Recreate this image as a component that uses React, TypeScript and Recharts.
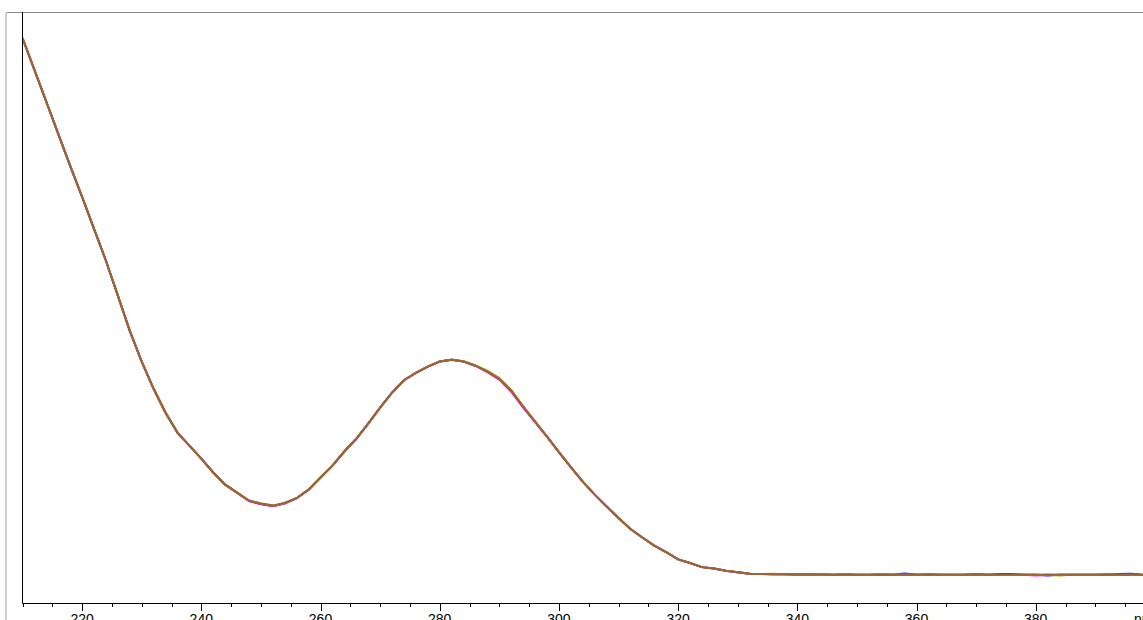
import React from "react";
import { LineChart, Line, XAxis, YAxis } from "recharts";

const wavelengths = [
  210, 212, 214, 216, 218, 220, 222, 224, 226, 228, 230, 232, 234, 236, 238, 240,
  242, 244, 246, 248, 250, 252, 254, 256, 258, 260, 262, 264, 266, 268, 270, 272,
  274, 276, 278, 280, 282, 284, 286, 288, 290, 292, 294, 296, 298, 300, 302, 304,
  306, 308, 310, 312, 314, 316, 318, 320, 322, 324, 326, 328, 330, 332, 334, 336,
  338, 340, 342, 344, 346, 348, 350, 352, 354, 356, 358, 360, 362, 364, 366, 368,
  370, 372, 374, 376, 378, 380, 382, 384, 386, 388, 390, 392, 394, 396, 398,
];

const absBrown = [
  1.912, 1.804, 1.696, 1.588, 1.48, 1.375, 1.267, 1.159, 1.041, 0.922, 0.818, 0.726, 0.645, 0.578, 0.534, 0.49,
  0.443, 0.402, 0.375, 0.348, 0.338, 0.331, 0.34, 0.356, 0.385, 0.426, 0.466, 0.514, 0.557, 0.608, 0.662, 0.713,
  0.755, 0.78, 0.801, 0.818, 0.824, 0.818, 0.804, 0.784, 0.76, 0.72, 0.666, 0.615, 0.564, 0.512, 0.461, 0.412,
  0.368, 0.328, 0.289, 0.252, 0.223, 0.196, 0.174, 0.149, 0.137, 0.123, 0.118, 0.111, 0.106, 0.101, 0.1, 0.099,
  0.099, 0.098, 0.098, 0.098, 0.097, 0.098, 0.097, 0.097, 0.098, 0.097, 0.098, 0.097, 0.098, 0.097, 0.097, 0.097,
  0.098, 0.097, 0.097, 0.097, 0.097, 0.097, 0.097, 0.097, 0.097, 0.097, 0.097, 0.098, 0.097, 0.098, 0.096,
];

const absBlue = [
  1.912, 1.804, 1.696, 1.588, 1.48, 1.375, 1.267, 1.159, 1.041, 0.922, 0.818, 0.726, 0.645, 0.578, 0.534, 0.49,
  0.443, 0.402, 0.375, 0.347, 0.336, 0.33, 0.339, 0.356, 0.385, 0.426, 0.466, 0.514, 0.557, 0.608, 0.662, 0.713,
  0.755, 0.78, 0.801, 0.818, 0.824, 0.818, 0.804, 0.784, 0.76, 0.72, 0.666, 0.615, 0.564, 0.512, 0.461, 0.412,
  0.368, 0.328, 0.289, 0.252, 0.223, 0.196, 0.174, 0.149, 0.137, 0.123, 0.118, 0.111, 0.106, 0.101, 0.1, 0.099,
  0.099, 0.098, 0.099, 0.098, 0.097, 0.098, 0.097, 0.097, 0.098, 0.097, 0.101, 0.097, 0.098, 0.097, 0.097, 0.097,
  0.1, 0.097, 0.1, 0.1, 0.097, 0.097, 0.095, 0.097, 0.097, 0.097, 0.097, 0.098, 0.1, 0.101, 0.097,
];

const absMagenta = [
  1.912, 1.804, 1.696, 1.588, 1.48, 1.375, 1.267, 1.159, 1.041, 0.922, 0.818, 0.726, 0.645, 0.578, 0.534, 0.49,
  0.443, 0.402, 0.375, 0.346, 0.336, 0.329, 0.338, 0.356, 0.385, 0.426, 0.466, 0.514, 0.557, 0.608, 0.662, 0.713,
  0.755, 0.78, 0.801, 0.818, 0.824, 0.818, 0.804, 0.782, 0.757, 0.716, 0.662, 0.613, 0.564, 0.512, 0.461, 0.412,
  0.368, 0.328, 0.289, 0.252, 0.223, 0.196, 0.174, 0.149, 0.137, 0.123, 0.118, 0.111, 0.106, 0.101, 0.1, 0.099,
  0.099, 0.098, 0.098, 0.098, 0.097, 0.098, 0.097, 0.096, 0.098, 0.097, 0.098, 0.097, 0.098, 0.097, 0.097, 0.097,
  0.098, 0.097, 0.097, 0.097, 0.097, 0.095, 0.097, 0.097, 0.097, 0.097, 0.097, 0.098, 0.097, 0.097, 0.096,
];

const absOlive = [
  1.912, 1.804, 1.696, 1.588, 1.48, 1.375, 1.267, 1.159, 1.041, 0.922, 0.818, 0.726, 0.645, 0.578, 0.534, 0.49,
  0.443, 0.402, 0.375, 0.348, 0.338, 0.331, 0.34, 0.356, 0.385, 0.426, 0.466, 0.514, 0.557, 0.608, 0.662, 0.713,
  0.755, 0.78, 0.801, 0.818, 0.825, 0.819, 0.805, 0.787, 0.762, 0.722, 0.667, 0.615, 0.564, 0.512, 0.461, 0.412,
  0.368, 0.328, 0.289, 0.252, 0.223, 0.196, 0.174, 0.149, 0.137, 0.123, 0.118, 0.111, 0.106, 0.101, 0.1, 0.101,
  0.099, 0.098, 0.098, 0.098, 0.097, 0.098, 0.097, 0.097, 0.099, 0.097, 0.098, 0.097, 0.098, 0.097, 0.096, 0.097,
  0.098, 0.097, 0.097, 0.097, 0.097, 0.097, 0.097, 0.095, 0.097, 0.097, 0.097, 0.099, 0.097, 0.098, 0.097,
];

const xTicks = [
  210, 215, 220, 225, 230, 235, 240, 245, 250, 255, 260, 265, 270, 275, 280, 285,
  290, 295, 300, 305, 310, 315, 320, 325, 330, 335, 340, 345, 350, 355, 360, 365,
  370, 375, 380, 385, 390, 395,
];
const labelledTicks = [220, 240, 260, 280, 300, 320, 340, 360, 380];

const data = wavelengths.map((w, i) => ({
  nm: w,
  blue: absBlue[i],
  magenta: absMagenta[i],
  olive: absOlive[i],
  brown: absBrown[i],
}));

const FONT = "'Liberation Sans', Arial, sans-serif";

const renderTick = (props: any) => {
  const { x, y, payload } = props;
  const v = payload.value;
  const major = labelledTicks.indexOf(v) >= 0;
  const cx = Math.round(x) + 0.5;
  return (
    <g>
      <line x1={cx} y1={y} x2={cx} y2={y + (major ? 7.5 : 3.5)} stroke="#000" strokeWidth={1} />
      {major && (
        <text x={x} y={y + 20.5} textAnchor="middle" fontSize={14} fontFamily={FONT} fill="#000">
          {v}
        </text>
      )}
    </g>
  );
};

const renderUnit = (props: any) => {
  const vb = props.viewBox || {};
  return (
    <text x={(vb.x || 0) + (vb.width || 0) - 9} y={624} fontSize={14} fontFamily={FONT} fill="#000">
      nm
    </text>
  );
};

export default function App() {
  return (
    <div style={{ position: "absolute", left: 0, top: 0, width: 1143, height: 620, background: "#fff", overflow: "hidden" }}>
      <div style={{ position: "absolute", left: 5, top: 12, width: 1138, height: 1, background: "#8a8a8a" }} />
      <div style={{ position: "absolute", left: 5, top: 12, width: 2, height: 608, background: "#cfcfcf" }} />
      <LineChart
        width={1143}
        height={620}
        data={data}
        margin={{ top: 12, right: 0, left: 0, bottom: 0 }}
        style={{ position: "absolute", left: 0, top: 0 }}
      >
        <XAxis
          dataKey="nm"
          type="number"
          domain={[210, 398]}
          ticks={xTicks}
          interval={0}
          height={16.5}
          tickSize={0}
          tickMargin={0}
          tickLine={false}
          axisLine={{ stroke: "#000", strokeWidth: 1 }}
          tick={renderTick}
          label={{ content: renderUnit }}
          allowDataOverflow
        />
        <YAxis
          type="number"
          domain={[0, 2]}
          width={22.5}
          tick={false}
          tickLine={false}
          axisLine={{ stroke: "#000", strokeWidth: 1 }}
          allowDataOverflow
        />
        <Line type="linear" dataKey="blue" stroke="#0000ff" strokeWidth={2} dot={false} isAnimationActive={false} />
        <Line type="linear" dataKey="magenta" stroke="#ff00ff" strokeWidth={2} dot={false} isAnimationActive={false} />
        <Line type="linear" dataKey="olive" stroke="#a0a000" strokeWidth={2} dot={false} isAnimationActive={false} />
        <Line type="linear" dataKey="brown" stroke="#9a6434" strokeWidth={2} dot={false} isAnimationActive={false} />
      </LineChart>
    </div>
  );
}
